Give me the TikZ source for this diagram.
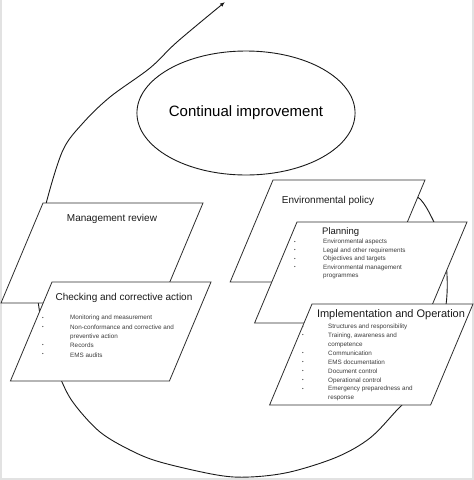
\documentclass[tikz,border=0pt]{standalone}
\usepackage{fontspec}
\setmainfont{Liberation Sans}
\usetikzlibrary{arrows.meta,shapes.geometric}
\definecolor{ink}{HTML}{1A1A1A}
\definecolor{edge}{HTML}{2E2E2E}
\definecolor{sec}{HTML}{3C3C3C}
\definecolor{rim}{HTML}{E2E2E2}

\begin{document}
\begin{tikzpicture}[
    x=1pt,y=-1pt,
    boxstyle/.style={draw=edge,line width=0.8pt,fill=white,line join=miter},
    ring/.style={draw=ink,ellipse,line width=0.9pt,minimum width=214pt,
        minimum height=124pt,inner sep=0pt},
    spiral/.style={ink,line width=0.9pt,-{Latex[length=5pt,width=4pt]}},
    head/.style={ink,font=\fontsize{10}{12}\selectfont,inner sep=0pt},
    item/.style={sec,font=\fontsize{6.3}{7.5}\selectfont,anchor=west,
        inner sep=0pt},
    dot/.style={sec,font=\fontsize{4.5}{4.5}\selectfont,inner sep=0pt},
  ]

  \useasboundingbox (0,0) rectangle (474,480);
  \draw[rim,line width=2pt] (1,0) -- (1,478.5) -- (472.5,478.5) -- (472.5,0);

  % ============================================================= SPIRAL
  % one long sweep: starts behind the policy sheet, runs round the sheets
  % and leaves past the top of the improvement ring
  \coordinate (spin) at (400,188);
  \coordinate (spout) at (225,2);
  \draw[spiral] plot[smooth,tension=0.55] coordinates {
      (spin) (420,199) (433,220) (443,245) (447,275) (446,305) (438,345)
      (420,385) (397,410) (370,438) (337,457) (290,472) (250,477)
      (217,475) (160,462) (130,450) (100,432) (75,405) (62,382)
      (46,340) (38,300) (38,260) (42,228) (47,200) (63,150)
      (83,123) (110,97) (150,68) (177,42) (spout)};

  % ============================================================= RING
  \node[ring,font=\fontsize{15}{18}\selectfont] (ci) at (246,113)
    {Continual improvement};

  % ============================================================= SHEETS
  % #1 name  #2 top-left x  #3 top y  #4 width  #5 height
  \foreach \nm/\tx/\ty/\w/\h in {
      mr/43/203/160/100, ca/52/282/159/99, ep/273/180/152/102,
      pl/297/222/170/101, io/312/304/161/101}{
    \pgfmathsetmacro\bx{\tx-0.42*\h}      % sheets lean right
    \draw[boxstyle] (\tx,\ty) coordinate (\nm-nw)
      -- ++(\w,0) coordinate (\nm-ne)
      -- (\bx+\w,\ty+\h) coordinate (\nm-se)
      -- (\bx,\ty+\h) coordinate (\nm-sw) -- cycle;
  }

  % ============================================================= TITLES
  \node[head] (mr-t) at (112,219) {Management review};
  \node[head] (ca-t) at (124,298) {Checking and corrective action};
  \node[head] (ep-t) at (328,201) {Environmental policy};
  \node[head,anchor=west,font=\fontsize{9.5}{11}\selectfont] (pl-t)
    at (322,232) {Planning};
  \node[head,font=\fontsize{11}{13}\selectfont] (io-t) at (391,315)
    {Implementation and Operation};

  % ============================================================= ITEMS
  % text/bullet? (0 = wrapped line, no bullet)
  \foreach \t/\b [count=\k] in {
      Monitoring and measurement/1, Non-conformance and corrective and/1,
      preventive action/0, Records/1, EMS audits/1}{
    \pgfmathsetmacro\yy{318+(\k-1)*9.2}
    \node[item] (ca-i\k) at (70,\yy) {\t};
    \ifnum\b=1 \node[dot] (ca-b\k) at (43,\yy) {\textbullet}; \fi
  }
  \foreach \t/\b [count=\k] in {
      Environmental aspects/1, Legal and other requirements/1,
      Objectives and targets/1, Environmental management/1,
      programmes/0}{
    \pgfmathsetmacro\yy{242+(\k-1)*8.5}
    \node[item] (pl-i\k) at (323,\yy) {\t};
    \ifnum\b=1 \node[dot] (pl-b\k) at (295,\yy) {\textbullet}; \fi
  }
  \foreach \t/\b [count=\k] in {
      Structures and responsibility/1, {Training, awareness and}/1,
      competence/0, Communication/1, EMS documentation/1,
      Document control/1, Operational control/1,
      Emergency preparedness and/1, response/0}{
    \pgfmathsetmacro\yy{327+(\k-1)*8.9}
    \node[item] (io-i\k) at (328,\yy) {\t};
    \ifnum\b=1 \node[dot] (io-b\k) at (303,\yy) {\textbullet}; \fi
  }

\end{tikzpicture}
\end{document}
